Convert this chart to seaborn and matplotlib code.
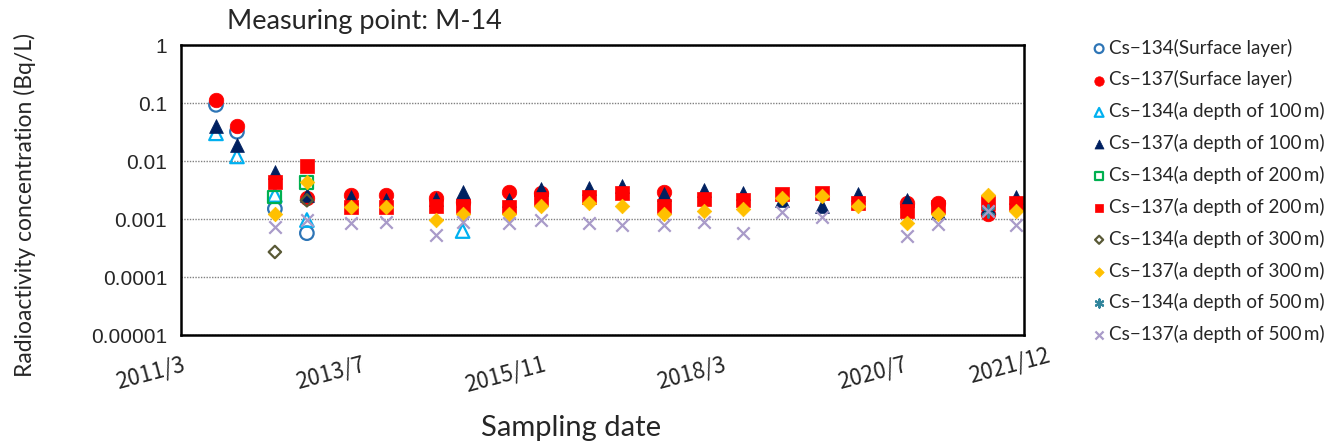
import numpy as np
import pandas as pd
import matplotlib
matplotlib.use("Agg")
import matplotlib.pyplot as plt
from matplotlib.transforms import ScaledTranslation
import seaborn as sns

nan = np.nan

# sampling dates
dates = pd.to_datetime([
    "2011-08-13", "2011-11-20", "2012-05-17", "2012-10-15", "2013-05-10",
    "2013-10-24", "2014-06-15", "2014-10-20", "2015-05-25", "2015-10-24",
    "2016-06-06", "2016-11-10", "2017-05-25", "2017-12-01", "2018-06-06",
    "2018-12-03", "2019-06-10", "2019-12-01", "2020-07-19", "2020-12-10",
    "2021-08-01", "2021-12-12",
])

cs134_surface = [0.093, 0.032, 0.0015, 0.00057, nan, nan, nan, nan, nan, nan, nan,
                 nan, nan, nan, nan, nan, nan, nan, nan, nan, nan, nan]
cs137_surface = [0.113, 0.040, nan, 0.0023, 0.0026, 0.0026, 0.0023, 0.0020, 0.0029, 0.0028, nan,
                 nan, 0.0029, nan, nan, nan, nan, nan, 0.0019, 0.0019, 0.0012, nan]
cs134_100m = [0.030, 0.012, 0.0026, 0.00096, nan, nan, nan, 0.00062, nan, nan, nan,
              nan, nan, nan, nan, nan, nan, nan, nan, nan, nan, nan]
cs137_100m = [0.040, 0.019, 0.0065, 0.0026, 0.0024, 0.0021, 0.0022, 0.0029, 0.0021, 0.0033, 0.0034,
              0.0037, 0.0027, 0.0032, 0.0028, 0.0021, 0.0017, 0.0027, 0.0021, 0.0013, 0.0016, 0.0024]
cs134_200m = [nan, nan, 0.0024, 0.0042, nan, nan, nan, nan, nan, nan, nan,
              nan, nan, nan, nan, nan, nan, nan, nan, nan, nan, nan]
cs137_200m = [nan, nan, 0.0044, 0.0082, 0.0016, 0.0016, 0.0017, 0.0017, 0.0016, 0.0022, 0.0024,
              0.0028, 0.0017, 0.0022, 0.0021, 0.0027, 0.0028, 0.0019, 0.0014, 0.0016, 0.0019, 0.0019]
cs134_300m = [nan, nan, 0.00027, 0.0021, nan, nan, nan, nan, nan, nan, nan,
              nan, nan, nan, nan, nan, nan, nan, nan, nan, nan, nan]
cs137_300m = [nan, nan, 0.0012, 0.0043, 0.0016, 0.0016, 0.00096, 0.0012, 0.0012, 0.0017, 0.0019,
              0.0017, 0.0012, 0.0014, 0.0015, 0.0023, 0.0025, 0.0017, 0.00085, 0.0012, 0.0026, 0.0014]
cs134_500m = [nan, nan, nan, nan, nan, nan, nan, nan, nan, nan, nan,
              nan, nan, nan, nan, nan, nan, nan, nan, nan, 0.0014, nan]
cs137_500m = [nan, nan, 0.00073, 0.00095, 0.00085, 0.00089, 0.00053, 0.00089, 0.00085, 0.00096, 0.00085,
              0.00080, 0.00080, 0.00089, 0.00057, 0.0013, 0.0011, nan, 0.00051, 0.00083, 0.0014, 0.00080]

labels = [
    "Cs\u2212134(Surface layer)", "Cs\u2212137(Surface layer)",
    "Cs\u2212134(a depth of 100\u2009m)", "Cs\u2212137(a depth of 100\u2009m)",
    "Cs\u2212134(a depth of 200\u2009m)", "Cs\u2212137(a depth of 200\u2009m)",
    "Cs\u2212134(a depth of 300\u2009m)", "Cs\u2212137(a depth of 300\u2009m)",
    "Cs\u2212134(a depth of 500\u2009m)", "Cs\u2212137(a depth of 500\u2009m)",
]
values = [cs134_surface, cs137_surface, cs134_100m, cs137_100m, cs134_200m,
          cs137_200m, cs134_300m, cs137_300m, cs134_500m, cs137_500m]

tick_dates = pd.to_datetime(["2011-03-01", "2013-07-01", "2015-11-01", "2018-03-01", "2020-07-01"])
tick_labels = ["2011/3", "2013/7", "2015/11", "2018/3", "2020/7", "2021/12"]
y_ticks = [1e-5, 1e-4, 1e-3, 1e-2, 1e-1, 1]
y_labels = ["0.00001", "0.0001", "0.001", "0.01", "0.1", "1"]

# marker, colour, open?, size
styles = [
    ("o", "#2E75B6", True, 95),
    ("o", "#FF0000", False, 110),
    ("^", "#00B0F0", True, 95),
    ("^", "#002060", False, 100),
    ("s", "#00B050", True, 85),
    ("s", "#FF0000", False, 95),
    ("D", "#595936", True, 40),
    ("D", "#FFC000", False, 55),
    ((6, 2, 0), "#31859C", False, 80),
    ("x", "#A99BC9", False, 80),
]

sns.set_theme(style="white")
plt.rcParams["font.family"] = ["Lato", "DejaVu Sans"]

fig = plt.figure(figsize=(13.3, 4.44), dpi=100)
ax = fig.add_axes([181 / 1330, 1 - 335 / 444, (1024 - 181) / 1330, (335 - 45) / 444])

for lab, vals, (m, c, hollow, s) in zip(labels, values, styles):
    kw = dict(x=dates, y=np.array(vals, dtype=float), ax=ax, marker=m, s=s, label=lab)
    if hollow:
        kw.update(facecolor="none", edgecolor=c, linewidth=1.6)
    elif isinstance(m, tuple) or m == "x":
        kw.update(color=c, linewidth=1.6)
    else:
        kw.update(color=c, edgecolor=c, linewidth=0.5)
    sns.scatterplot(**kw)

ax.set_yscale("log")
ax.set_ylim(1e-5, 1)
ax.set_yticks(y_ticks)
ax.set_yticklabels(y_labels, fontfamily="Liberation Sans", fontsize=15)
ax.minorticks_off()
ax.yaxis.grid(True, linestyle=(0, (1, 1)), color="#808080", linewidth=1)
ax.tick_params(axis="y", length=0, pad=10)

xmax = pd.Timestamp("2022-01-20")
ax.set_xlim(pd.Timestamp("2011-03-01"), xmax)
ax.set_xticks(list(tick_dates) + [xmax])
ax.set_xticklabels(tick_labels, rotation=15, ha="right", rotation_mode="anchor",
                   fontfamily=["Noto Sans CJK JP", "DejaVu Sans"], fontsize=16)
ax.tick_params(axis="x", direction="in", length=6, width=0.8, color="#606060", pad=13)
# the end label sits a little right of and above the axis end in the original
last = ax.get_xticklabels()[-1]
last.set_transform(last.get_transform() + ScaledTranslation(0.22, 0.09, fig.dpi_scale_trans))
ax.set_xlabel("")
ax.set_ylabel("")

for sp in ax.spines.values():
    sp.set_color("black")
    sp.set_linewidth(1.8)

handles, labs = ax.get_legend_handles_labels()
if ax.get_legend() is not None:
    ax.get_legend().remove()
fig.legend(handles, labs, loc="upper left", bbox_to_anchor=(1084 / 1330, 1 - 31 / 444),
           frameon=False, fontsize=13.6, markerscale=0.65, handletextpad=0.1,
           handlelength=0.8, labelspacing=0.73, borderaxespad=0)

fig.text(227 / 1330, 1 - 22 / 444, "Measuring point: M-14", fontsize=19.5, va="center", ha="left")
fig.text(25 / 1330, 1 - 205 / 444, "Radioactivity concentration (Bq/L)", fontsize=16.5,
         rotation=90, va="center", ha="center")
fig.text(571 / 1330, 1 - 428 / 444, "Sampling date", fontsize=21, va="center", ha="center")

fig.savefig("out.png", dpi=100)
